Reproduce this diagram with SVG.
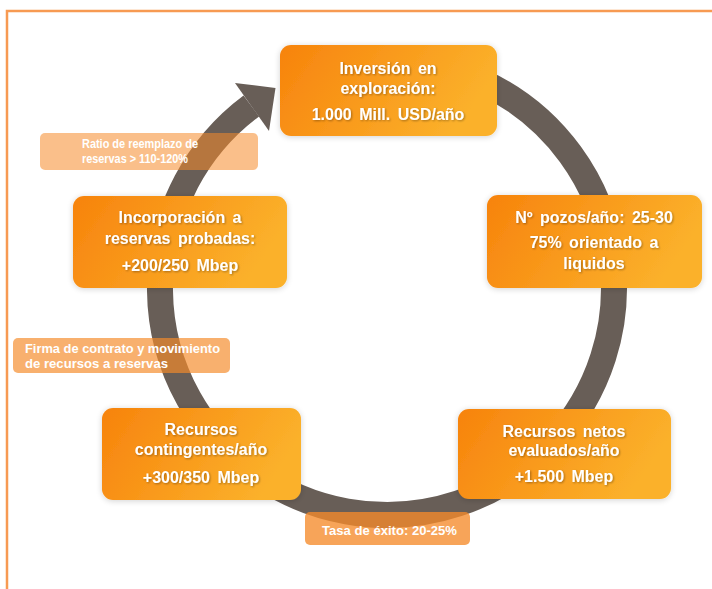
<svg xmlns="http://www.w3.org/2000/svg" width="712" height="589" viewBox="0 0 712 589">
  <defs>
    <linearGradient id="boxGrad" x1="0" y1="0" x2="1" y2="0.3">
      <stop offset="0" stop-color="#F7830C"/>
      <stop offset="1" stop-color="#FBB12B"/>
    </linearGradient>
    <filter id="glow" x="-10%" y="-15%" width="120%" height="130%">
      <feGaussianBlur in="SourceAlpha" stdDeviation="3"/>
      <feOffset dx="0" dy="1"/>
      <feComponentTransfer><feFuncA type="linear" slope="0.18"/></feComponentTransfer>
      <feMerge><feMergeNode/><feMergeNode in="SourceGraphic"/></feMerge>
    </filter>
    <filter id="tshadow" x="-5%" y="-20%" width="110%" height="140%">
      <feGaussianBlur in="SourceAlpha" stdDeviation="0.8"/>
      <feOffset dx="0.5" dy="0.8"/>
      <feComponentTransfer><feFuncA type="linear" slope="0.35"/></feComponentTransfer>
      <feMerge><feMergeNode/><feMergeNode in="SourceGraphic"/></feMerge>
    </filter>
  </defs>
  <style>
    .box { fill: url(#boxGrad); filter: url(#glow); }
    .bt { font-family: "Liberation Sans", Arial, sans-serif; font-weight: bold; font-size: 16px; fill: #FFFFFF; text-anchor: middle; word-spacing: 3px; filter: url(#tshadow); }
    .lbl { fill: #F58A2A; }
    .lt { font-family: "Liberation Sans", Arial, sans-serif; font-weight: bold; font-size: 13px; fill: #FFFFFF; }
    .frame { fill: none; stroke: #F79A52; stroke-width: 2.5; }
    .ring { fill: none; stroke: #685E57; stroke-width: 26; }
  </style>

  <rect width="712" height="589" fill="#FFFFFF"/>
  <path class="frame" d="M7,589 L7,11 L712,11"/>

  <g id="connectors">
    <path class="ring" d="M387,61 A227,227 0 1 1 251.3,106"/>
    <polygon points="235,83 275.5,88 269,131" fill="#685E57"/>
  </g>

  <g id="node-inversion">
    <rect class="box" x="280" y="45" width="217" height="91" rx="11"/>
    <text class="bt" x="388" y="74">Inversión en</text>
    <text class="bt" x="388" y="94">exploración:</text>
    <text class="bt" x="388" y="120">1.000 Mill. USD/año</text>
  </g>

  <g id="node-pozos">
    <rect class="box" x="487" y="195" width="215" height="93" rx="11"/>
    <text class="bt" x="594" y="223">Nº pozos/año: 25-30</text>
    <text class="bt" x="594" y="248">75% orientado a</text>
    <text class="bt" x="594" y="269">liquidos</text>
  </g>

  <g id="node-netos">
    <rect class="box" x="458" y="409" width="213" height="90" rx="11"/>
    <text class="bt" x="564" y="437">Recursos netos</text>
    <text class="bt" x="564" y="456">evaluados/año</text>
    <text class="bt" x="564" y="482">+1.500 Mbep</text>
  </g>

  <g id="node-contingentes">
    <rect class="box" x="102" y="408" width="199" height="92" rx="11"/>
    <text class="bt" x="201" y="435">Recursos</text>
    <text class="bt" x="201" y="455">contingentes/año</text>
    <text class="bt" x="201" y="483">+300/350 Mbep</text>
  </g>

  <g id="node-incorporacion">
    <rect class="box" x="73" y="196" width="214" height="92" rx="11"/>
    <text class="bt" x="180" y="223">Incorporación a</text>
    <text class="bt" x="180" y="244">reservas probadas:</text>
    <text class="bt" x="180" y="271">+200/250 Mbep</text>
  </g>

  <g id="label-ratio">
    <rect class="lbl" x="40" y="133" width="218" height="37" rx="5" fill-opacity="0.55"/>
    <text class="lt" x="82" y="148" textLength="116" lengthAdjust="spacingAndGlyphs">Ratio de reemplazo de</text>
    <text class="lt" x="82" y="163" textLength="106" lengthAdjust="spacingAndGlyphs">reservas &gt; 110-120%</text>
  </g>

  <g id="label-firma">
    <rect class="lbl" x="13" y="338" width="217" height="35" rx="5" fill-opacity="0.68"/>
    <text class="lt" x="25" y="353" textLength="195" lengthAdjust="spacingAndGlyphs">Firma de contrato y movimiento</text>
    <text class="lt" x="25" y="368" textLength="143" lengthAdjust="spacingAndGlyphs">de recursos a reservas</text>
  </g>

  <g id="label-tasa">
    <rect class="lbl" x="305" y="512" width="165" height="33" rx="5" fill-opacity="0.78"/>
    <text class="lt" x="322" y="535" textLength="135" lengthAdjust="spacingAndGlyphs">Tasa de éxito: 20-25%</text>
  </g>
</svg>
